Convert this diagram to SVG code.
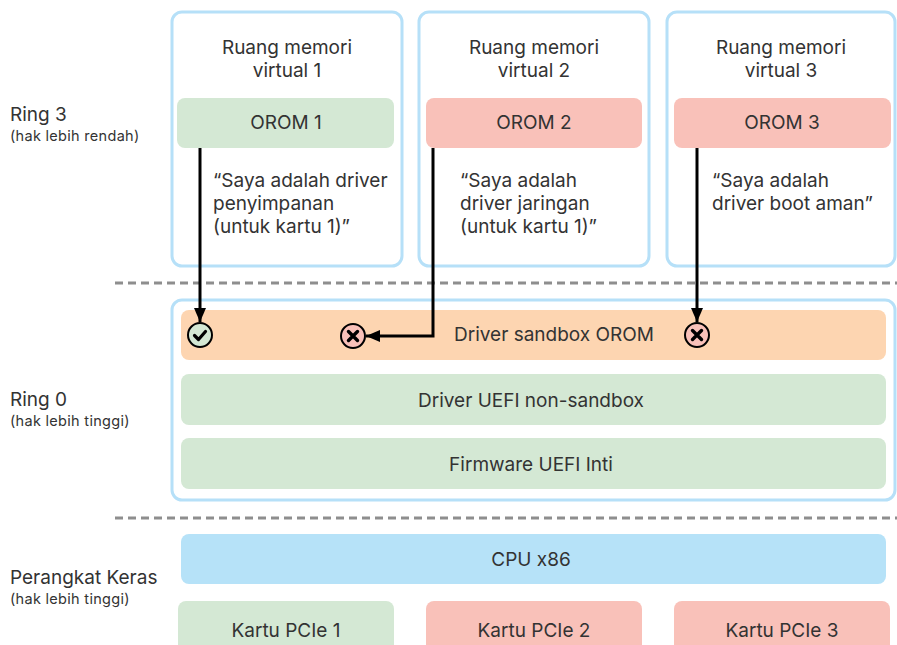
<svg xmlns="http://www.w3.org/2000/svg" width="897" height="645" viewBox="0 0 897 645">
<style>
text{font-family:Inter,"Liberation Sans",sans-serif;fill:#333}
.t{font-size:19px}
.c{text-anchor:middle}
.lbl{font-size:19px}
.sub{font-size:14.5px;letter-spacing:0.3px}
.vm{fill:#fff;stroke:#b6e0f8;stroke-width:3}
.g{fill:#d4e8d4}
.r{fill:#f9c1b9}
.o{fill:#fdd5b1}
.b{fill:#b6e2f8}
.dash{stroke:#8e8e8e;stroke-width:3;stroke-dasharray:8 5;fill:none}
.ar{stroke:#000;stroke-width:3;fill:none}
</style>
<defs>
<marker id="ah" markerUnits="userSpaceOnUse" markerWidth="16" markerHeight="16" viewBox="0 0 16 16" refX="14" refY="8" orient="auto">
<path d="M0,2 L14,8 L0,14 Z" fill="#000"/>
</marker>
<g id="ok"><circle r="12" fill="#d4e8d4" stroke="#000" stroke-width="2"/><path d="M-5.5,0.5 L-1.5,4.5 L5.5,-3.5" fill="none" stroke="#000" stroke-width="3.2" stroke-linecap="round" stroke-linejoin="round"/></g>
<g id="no"><circle r="12" fill="#f9c1b9" stroke="#000" stroke-width="2"/><path d="M-4.5,-4.5 L4.5,4.5 M4.5,-4.5 L-4.5,4.5" fill="none" stroke="#000" stroke-width="3.4" stroke-linecap="round"/></g>
</defs>
<rect width="897" height="645" fill="#fff"/>

<g id="labels">
<text class="lbl" x="10" y="121">Ring 3</text>
<text class="sub" x="10" y="141">(hak lebih rendah)</text>
<text class="lbl" x="10" y="406">Ring 0</text>
<text class="sub" x="10" y="426">(hak lebih tinggi)</text>
<text class="lbl" x="10" y="584">Perangkat Keras</text>
<text class="sub" x="10" y="604">(hak lebih tinggi)</text>
</g>

<g id="dividers">
<line class="dash" x1="115" y1="283" x2="897" y2="283"/>
<line class="dash" x1="115" y1="518" x2="897" y2="518"/>
</g>

<g id="vm1">
<rect class="vm" x="172" y="12" width="230" height="254" rx="10"/>
<text class="t c" x="287" y="54">Ruang memori</text>
<text class="t c" x="287" y="77">virtual 1</text>
<rect class="g" x="177" y="98" width="217" height="50" rx="8"/>
<text class="t c" x="286" y="129">OROM 1</text>
<text class="t" x="213" y="187">“Saya adalah driver</text>
<text class="t" x="213" y="210">penyimpanan</text>
<text class="t" x="213" y="233">(untuk kartu 1)”</text>
</g>

<g id="vm2">
<rect class="vm" x="419" y="12" width="230" height="254" rx="10"/>
<text class="t c" x="534" y="54">Ruang memori</text>
<text class="t c" x="534" y="77">virtual 2</text>
<rect class="r" x="426" y="98" width="216" height="50" rx="8"/>
<text class="t c" x="534" y="129">OROM 2</text>
<text class="t" x="460" y="187">“Saya adalah</text>
<text class="t" x="460" y="210">driver jaringan</text>
<text class="t" x="460" y="233">(untuk kartu 1)”</text>
</g>

<g id="vm3">
<rect class="vm" x="667" y="12" width="228" height="254" rx="10"/>
<text class="t c" x="781" y="54">Ruang memori</text>
<text class="t c" x="781" y="77">virtual 3</text>
<rect class="r" x="674" y="98" width="217" height="50" rx="8"/>
<text class="t c" x="782" y="129">OROM 3</text>
<text class="t" x="712" y="187">“Saya adalah</text>
<text class="t" x="712" y="210">driver boot aman”</text>
</g>

<g id="ring0">
<rect class="vm" x="172" y="300" width="723" height="200" rx="10"/>
</g>
<g id="sandbox">
<rect class="o" x="181" y="310" width="705" height="50" rx="8"/>
<text class="t c" x="554" y="341">Driver sandbox OROM</text>
</g>
<g id="nonsandbox">
<rect class="g" x="181" y="374" width="705" height="51" rx="8"/>
<text class="t c" x="531" y="407">Driver UEFI non-sandbox</text>
</g>
<g id="firmware">
<rect class="g" x="181" y="438" width="705" height="51" rx="8"/>
<text class="t c" x="531" y="471">Firmware UEFI Inti</text>
</g>

<g id="cpu">
<rect class="b" x="181" y="534" width="705" height="50" rx="8"/>
<text class="t c" x="531" y="566">CPU x86</text>
</g>
<g id="pcie1">
<rect class="g" x="178" y="601" width="216" height="60" rx="8"/>
<text class="t c" x="286" y="637">Kartu PCIe 1</text>
</g>
<g id="pcie2">
<rect class="r" x="426" y="601" width="216" height="60" rx="8"/>
<text class="t c" x="534" y="637">Kartu PCIe 2</text>
</g>
<g id="pcie3">
<rect class="r" x="674" y="601" width="216" height="60" rx="8"/>
<text class="t c" x="782" y="637">Kartu PCIe 3</text>
</g>

<g id="connectors">
<line class="ar" x1="200" y1="148" x2="200" y2="322" marker-end="url(#ah)"/>
<path class="ar" d="M433,148 V336 H366" marker-end="url(#ah)"/>
<line class="ar" x1="697" y1="148" x2="697" y2="322" marker-end="url(#ah)"/>
</g>

<g id="icons">
<use href="#ok" x="200" y="335"/>
<use href="#no" x="353" y="336"/>
<use href="#no" x="697" y="335"/>
</g>
</svg>
